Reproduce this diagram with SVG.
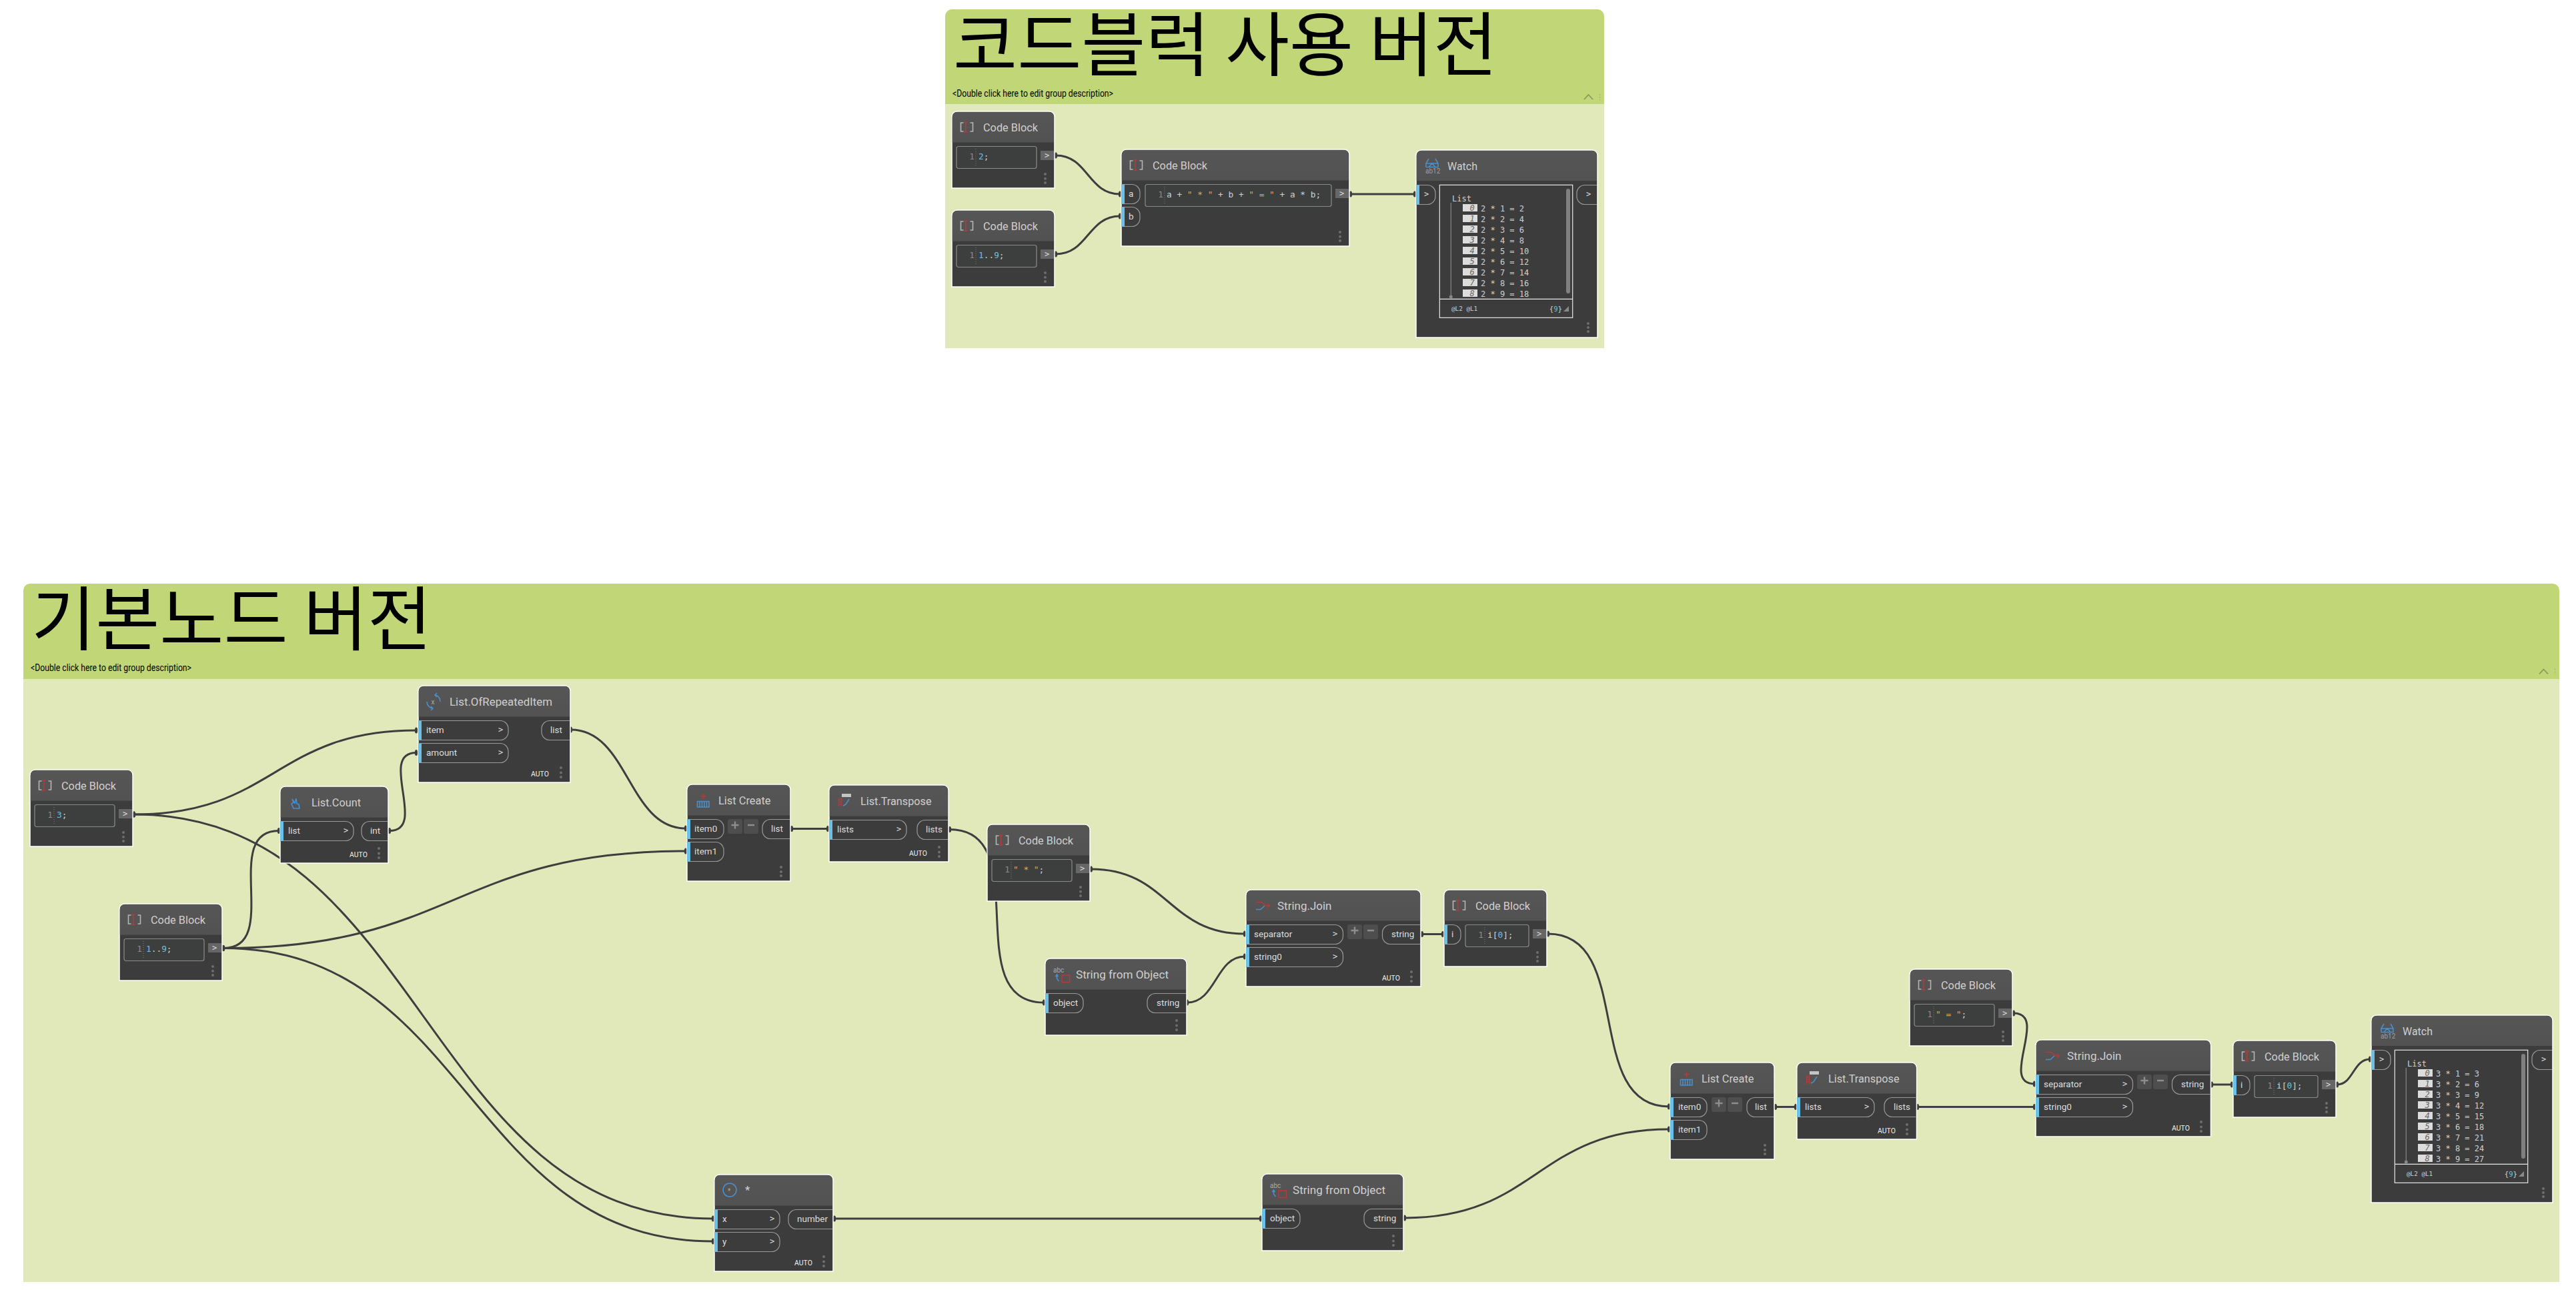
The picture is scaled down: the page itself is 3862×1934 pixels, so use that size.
<svg xmlns="http://www.w3.org/2000/svg" xmlns:xlink="http://www.w3.org/1999/xlink" width="3862" height="1934" viewBox="0 0 3862 1934">
<style>
.gh{fill:#c1d676}.gb{fill:#e1e9bb}
.gt{font:104.500px "Noto Sans CJK KR","Noto Sans",sans-serif;fill:#000}
.gd{font:14px Roboto,"Noto Sans",sans-serif;fill:#000}
.nb{fill:#3c3c3c;stroke:#fff;stroke-width:1.5}
.nh{fill:url(#hg)}
.t{font:17px Roboto,"Noto Sans",sans-serif;fill:#cfcfcf}
.l{font:13.5px Roboto,"Noto Sans",sans-serif;fill:#dcdcdc}
.p{fill:none;stroke:#9a9a9a;stroke-width:1.2}
.s{fill:#6ac0e7}
.ch{font:12px "DejaVu Sans Mono",monospace;fill:#d8d8d8}
.a{font:10.5px Roboto,"Noto Sans",sans-serif;fill:#f0f0f0}
.d{fill:#6e6e6e}
.box{fill:#3d3f3f;stroke:#8a8a8a;stroke-width:1.2}
.tab{fill:#666}
.c{font:12.8px "DejaVu Sans Mono",monospace;fill:#cfcfcf}
.ln{font:12.8px "DejaVu Sans Mono",monospace;fill:#8c8c8c;text-anchor:end}
.o{fill:#dca55c}.n{fill:#6ac0e7}
.dl{stroke:#777;stroke-width:1;stroke-dasharray:1 2;fill:none}
.pm{fill:#4e4e4e}
.pmt{stroke:#8d8d8d;stroke-width:2.4;fill:none}
.w{fill:none;stroke:#e8e8e8;stroke-width:1.2}
.wi{fill:#dcdcdc}
.wn{font:italic 12px "DejaVu Sans Mono",monospace;fill:#666;text-anchor:middle}
.wt{font:12px "DejaVu Sans Mono",monospace;fill:#cfcfcf}
.wf{font:9.3px "DejaVu Sans Mono",monospace;fill:#cfcfcf}
.wc{font:10.7px "DejaVu Sans Mono",monospace;fill:#cfcfcf}
.cn{fill:none;stroke:#3e3e3e;stroke-width:3;marker-start:url(#nub);marker-end:url(#nub)}
.ib{fill:none;stroke:#4a8fc9;stroke-width:1.6}
.ir{fill:none;stroke:#b53a3a;stroke-width:1.6}
.ig{fill:none;stroke:#b5b5b5;stroke-width:1.6}
.it{font:10px Roboto,sans-serif;fill:#aaa}
</style>
<defs>
<linearGradient id="hg" x1="0" y1="0" x2="0" y2="1"><stop offset="0" stop-color="#565656"/><stop offset="1" stop-color="#525252"/></linearGradient>
<marker id="nub" markerUnits="userSpaceOnUse" markerWidth="6" markerHeight="12" refX="3" refY="6" orient="0"><ellipse cx="3" cy="6" rx="2.2" ry="4.5" fill="#3e3e3e"/></marker>
<g id="i-code"><path class="ig" d="M18.5 17h-4v13h4M28.500 17h4v13h-4"/><path class="ir" stroke-width="2" d="M21.800 16v15M19 16h5.600M19 31h5.600"/></g>
<g id="i-watch"><path class="ib" d="M15 25v-5l4-7M33 25v-5l-4-7M14.500 20h19M14.500 25.500h19M19 25.500l5-5.500l5 5.500"/><text class="it" x="14" y="34.500" fill-opacity=".9">ab12</text></g>
<g id="i-join"><path class="ir" d="M15 18.500h8l7 5.500h5M32 21l3.500 3l-3.500 3"/><path class="ib" d="M15 29.500h7l6-5.500"/></g>
<g id="i-create"><path class="ir" stroke-width="2.400" d="M24.500 14v8M20.500 17.800h8"/><path class="ib" stroke-width="1.200" d="M15.500 25.500h17.500v8.500h-17.500zM19 25.500v8.500M22.500 25.500v8.500M26 25.500v8.500M29.500 25.500v8.500"/></g>
<g id="i-trans"><rect x="19" y="13" width="14" height="5" fill="#c4c4c4"/><path class="ir" stroke-width="1.300" d="M14.500 19v13M18.500 19v13M14.500 22h4M14.500 25.500h4M14.500 29h4"/><path class="ib" stroke-width="2.400" d="M21 31l4-2l5-8"/></g>
<g id="i-str"><text class="it" x="12" y="21" font-size="10">abc</text><path class="ib" d="M17.500 24v6l3 4M15.500 27l2-3l2 3"/><rect class="ir" x="25" y="25" width="11.500" height="10.500"/></g>
</defs>

<g id="group-1">
<path class="gh" d="M1417 156.500V24a10 10 0 0 1 10-10H2395a10 10 0 0 1 10 10V156.500z"/>
<rect class="gb" x="1417" y="156.500" width="988" height="365.500"/>
<text class="gt" x="1429" y="105">코드블럭 사용 버전</text>
<text class="gd" x="1428" y="145" textLength="241" lengthAdjust="spacingAndGlyphs">&lt;Double click here to edit group description&gt;</text>
<path d="M2375 149l6.500-7l6.500 7" fill="none" stroke="#8b9a5a" stroke-width="1.800"/>
<path d="M2398.500 141v9" stroke="#a7b86d" stroke-width="1.500" stroke-dasharray="2 2"/>
</g>
<g id="group-2">
<path class="gh" d="M35 1018V885a10 10 0 0 1 10-10H3827a10 10 0 0 1 10 10V1018z"/>
<rect class="gb" x="35" y="1018" width="3802" height="904"/>
<text class="gt" x="47" y="966">기본노드 버전</text>
<text class="gd" x="46" y="1006" textLength="241" lengthAdjust="spacingAndGlyphs">&lt;Double click here to edit group description&gt;</text>
<path d="M3807 1010.500l6.500-7l6.500 7" fill="none" stroke="#8b9a5a" stroke-width="1.800"/>
<path d="M3830.500 1002.500v9" stroke="#a7b86d" stroke-width="1.500" stroke-dasharray="2 2"/>
</g>

<g id="connectors">
<path class="cn" d="M1583 233C1631 233 1631 291 1679 291"/>
<path class="cn" d="M1583 381C1631 381 1631 324 1679 324"/>
<path class="cn" d="M2025 291H2121"/>
<path class="cn" d="M201 1221C412 1221 412 1095 624 1095"/>
<path class="cn" d="M201 1221C635 1221 635 1827 1069 1827"/>
<path class="cn" d="M335 1421.500C423 1421.500 330 1245.500 418 1245.500"/>
<path class="cn" d="M335 1421.500C681 1421.500 681 1276 1028 1276"/>
<path class="cn" d="M335 1421.500C702 1421.500 702 1861 1069 1861"/>
<path class="cn" d="M584 1245.500C642 1245.500 566 1128.500 624 1128.500"/>
<path class="cn" d="M856 1094C942 1094 942 1242 1028 1242"/>
<path class="cn" d="M1187 1242.500H1241"/>
<path class="cn" d="M1424 1243.500C1554 1243.500 1435 1503 1565 1503"/>
<path class="cn" d="M1636 1303C1751 1303 1751 1400 1866 1400"/>
<path class="cn" d="M1780 1503C1823 1503 1823 1434 1866 1434"/>
<path class="cn" d="M2132 1400.500H2163"/>
<path class="cn" d="M2321 1400C2451 1400 2372 1659 2502 1659"/>
<path class="cn" d="M1251 1827H1890"/>
<path class="cn" d="M2106 1826C2304 1826 2304 1693 2502 1693"/>
<path class="cn" d="M2662 1659.500H2692"/>
<path class="cn" d="M2875 1659.500H3050"/>
<path class="cn" d="M3019 1519C3072 1519 2997 1625 3050 1625"/>
<path class="cn" d="M3316 1626H3346"/>
<path class="cn" d="M3504 1626C3528 1626 3528 1588 3553 1588"/>
</g>

<g id="cb-top1" transform="translate(1427,167)">
<path class="nb" d="M0 115V8a8 8 0 0 1 8-8H146a8 8 0 0 1 8 8V115z"/><path class="nh" d="M.8 46.500V8a7 7 0 0 1 7-7H146a7 7 0 0 1 7 7V46.500z"/>
<use xlink:href="#i-code" href="#i-code" x="-1"/>
<text class="t" x="47" y="30" textLength="82" lengthAdjust="spacingAndGlyphs">Code Block</text>
<rect class="box" x="7" y="52.500" width="120" height="33" rx="3"/><path class="dl" d="M36 56V83"/>
<text class="ln" x="34" y="72">1</text><text class="c" x="40" y="72"><tspan class="n">2</tspan>;</text>
<rect class="tab" x="133" y="59" width="20" height="14"/><text class="ch" x="139" y="70">&gt;</text>
<circle class="d" cx="140" cy="94" r="2"/><circle class="d" cx="140" cy="100.700" r="2"/><circle class="d" cx="140" cy="107" r="2"/>
</g>
<g id="cb-top2" transform="translate(1427,315)">
<path class="nb" d="M0 115V8a8 8 0 0 1 8-8H146a8 8 0 0 1 8 8V115z"/><path class="nh" d="M.8 46.500V8a7 7 0 0 1 7-7H146a7 7 0 0 1 7 7V46.500z"/>
<use xlink:href="#i-code" href="#i-code" x="-1"/>
<text class="t" x="47" y="30" textLength="82" lengthAdjust="spacingAndGlyphs">Code Block</text>
<rect class="box" x="7" y="52.500" width="120" height="33" rx="3"/><path class="dl" d="M36 56V83"/>
<text class="ln" x="34" y="72">1</text><text class="c" x="40" y="72"><tspan class="n">1</tspan>..<tspan class="n">9</tspan>;</text>
<rect class="tab" x="133" y="59" width="20" height="14"/><text class="ch" x="139" y="70">&gt;</text>
<circle class="d" cx="140" cy="94" r="2"/><circle class="d" cx="140" cy="100.700" r="2"/><circle class="d" cx="140" cy="107" r="2"/>
</g>
<g id="cb-top3" transform="translate(1681,224)">
<path class="nb" d="M0 145V8a8 8 0 0 1 8-8H334a8 8 0 0 1 8 8V145z"/><path class="nh" d="M.8 46.500V8a7 7 0 0 1 7-7H334a7 7 0 0 1 7 7V46.500z"/>
<use xlink:href="#i-code" href="#i-code" x="-1"/>
<text class="t" x="47" y="30" textLength="82" lengthAdjust="spacingAndGlyphs">Code Block</text>
<path class="p" d="M0 52.500H16a12 12 0 0 1 12 12v5a12 12 0 0 1-12 12H0"/><rect class="s" y="52.500" width="5" height="29"/><text class="l" x="11" y="71">a</text>
<path class="p" d="M0 86.500H16a12 12 0 0 1 12 12v5a12 12 0 0 1-12 12H0"/><rect class="s" y="86.500" width="5" height="29"/><text class="l" x="11" y="105">b</text>
<rect class="box" x="36" y="52.500" width="279" height="33" rx="3"/><path class="dl" d="M65 56V83"/>
<text class="ln" x="63" y="72">1</text><text class="c" x="68" y="72">a + <tspan class="o">" * "</tspan> + b + <tspan class="o">" = "</tspan> + a * b;</text>
<rect class="tab" x="321" y="59" width="20" height="14"/><text class="ch" x="327" y="70">&gt;</text>
<circle class="d" cx="328" cy="124" r="2"/><circle class="d" cx="328" cy="130.700" r="2"/><circle class="d" cx="328" cy="137" r="2"/>
</g>
<g id="watch-top" transform="translate(2123,225)">
<path class="nb" d="M0 281V8a8 8 0 0 1 8-8H264a8 8 0 0 1 8 8V281z"/><path class="nh" d="M.8 46V8a7 7 0 0 1 7-7H264a7 7 0 0 1 7 7V46z"/>
<use xlink:href="#i-watch" href="#i-watch"/>
<text class="t" x="47" y="29.500" textLength="45" lengthAdjust="spacingAndGlyphs">Watch</text>
<path class="p" d="M0 52.500H17a12 12 0 0 1 12 12v5a12 12 0 0 1-12 12H0"/><rect class="s" y="52.500" width="5" height="29"/><text class="ch" x="12" y="70">&gt;</text>
<path class="p" d="M271 52.500H253a12 12 0 0 0-12 12v5a12 12 0 0 0 12 12H271"/><text class="ch" x="255" y="70">&gt;</text>
<rect class="w" x="35.300" y="52.300" width="199.400" height="199"/><path class="w" d="M35.300 223.300H234.700"/>
<rect x="225" y="58" width="6" height="157" rx="3" fill="#808080"/>
<path d="M52.300 79V220" stroke="#888" stroke-width="1.200"/><circle cx="52.300" cy="220" r="2.500" fill="#888"/>
<text class="wt" x="54" y="76.500">List</text>
<rect class="wi" x="70" y="81" width="22" height="11"/><text class="wn" x="84" y="90.500">0</text><text class="wt" x="97" y="91.500">2 * 1 = 2</text>
<rect class="wi" x="70" y="97" width="22" height="11"/><text class="wn" x="84" y="106.500">1</text><text class="wt" x="97" y="107.500">2 * 2 = 4</text>
<rect class="wi" x="70" y="113" width="22" height="11"/><text class="wn" x="84" y="122.500">2</text><text class="wt" x="97" y="123.500">2 * 3 = 6</text>
<rect class="wi" x="70" y="129" width="22" height="11"/><text class="wn" x="84" y="138.500">3</text><text class="wt" x="97" y="139.500">2 * 4 = 8</text>
<rect class="wi" x="70" y="145" width="22" height="11"/><text class="wn" x="84" y="154.500">4</text><text class="wt" x="97" y="155.500">2 * 5 = 10</text>
<rect class="wi" x="70" y="161" width="22" height="11"/><text class="wn" x="84" y="170.500">5</text><text class="wt" x="97" y="171.500">2 * 6 = 12</text>
<rect class="wi" x="70" y="177" width="22" height="11"/><text class="wn" x="84" y="186.500">6</text><text class="wt" x="97" y="187.500">2 * 7 = 14</text>
<rect class="wi" x="70" y="193" width="22" height="11"/><text class="wn" x="84" y="202.500">7</text><text class="wt" x="97" y="203.500">2 * 8 = 16</text>
<rect class="wi" x="70" y="209" width="22" height="11"/><text class="wn" x="84" y="218.500">8</text><text class="wt" x="97" y="219.500">2 * 9 = 18</text>
<text class="wf" x="53" y="241">@L2 @L1</text><text class="wc" x="199.700" y="241.500">{<tspan class="n">9</tspan>}</text>
<path d="M229 234l-8 8h8z" fill="#8a8a8a"/>
<circle class="d" cx="258" cy="260" r="2"/><circle class="d" cx="258" cy="266" r="2"/><circle class="d" cx="258" cy="272" r="2"/>
</g>

<g id="cb-3" transform="translate(45,1154)">
<path class="nb" d="M0 115V8a8 8 0 0 1 8-8H146a8 8 0 0 1 8 8V115z"/><path class="nh" d="M.8 46.500V8a7 7 0 0 1 7-7H146a7 7 0 0 1 7 7V46.500z"/>
<use xlink:href="#i-code" href="#i-code" x="-1"/>
<text class="t" x="47" y="30" textLength="82" lengthAdjust="spacingAndGlyphs">Code Block</text>
<rect class="box" x="7" y="52.500" width="120" height="33" rx="3"/><path class="dl" d="M36 56V83"/>
<text class="ln" x="34" y="72">1</text><text class="c" x="40" y="72"><tspan class="n">3</tspan>;</text>
<rect class="tab" x="133" y="59" width="20" height="14"/><text class="ch" x="139" y="70">&gt;</text>
<circle class="d" cx="140" cy="94" r="2"/><circle class="d" cx="140" cy="100.700" r="2"/><circle class="d" cx="140" cy="107" r="2"/>
</g>
<g id="cb-range" transform="translate(179,1355)">
<path class="nb" d="M0 115V8a8 8 0 0 1 8-8H146a8 8 0 0 1 8 8V115z"/><path class="nh" d="M.8 46.500V8a7 7 0 0 1 7-7H146a7 7 0 0 1 7 7V46.500z"/>
<use xlink:href="#i-code" href="#i-code" x="-1"/>
<text class="t" x="47" y="30" textLength="82" lengthAdjust="spacingAndGlyphs">Code Block</text>
<rect class="box" x="7" y="52.500" width="120" height="33" rx="3"/><path class="dl" d="M36 56V83"/>
<text class="ln" x="34" y="72">1</text><text class="c" x="40" y="72"><tspan class="n">1</tspan>..<tspan class="n">9</tspan>;</text>
<rect class="tab" x="133" y="59" width="20" height="14"/><text class="ch" x="139" y="70">&gt;</text>
<circle class="d" cx="140" cy="94" r="2"/><circle class="d" cx="140" cy="100.700" r="2"/><circle class="d" cx="140" cy="107" r="2"/>
</g>
<g id="list-repeated" transform="translate(627,1028)">
<path class="nb" d="M0 145V8a8 8 0 0 1 8-8H220a8 8 0 0 1 8 8V145z"/><path class="nh" d="M.8 46.500V8a7 7 0 0 1 7-7H220a7 7 0 0 1 7 7V46.500z"/>
<path class="ib" d="M26 14a10 10 0 0 1 7 10M22 34a10 10 0 0 1-9-10M28 11l-3 3l3 3M19 37l3-3l-3-3"/><text class="it" x="19.500" y="27.500">x</text>
<text class="t" x="47" y="30" textLength="154" lengthAdjust="spacingAndGlyphs">List.OfRepeatedItem</text>
<path class="p" d="M0 52.500H123a12 12 0 0 1 12 12v5a12 12 0 0 1-12 12H0"/><rect class="s" y="52.500" width="5" height="29"/><text class="l" x="12" y="71">item</text><text class="ch" x="120" y="70">&gt;</text>
<path class="p" d="M0 86.500H123a12 12 0 0 1 12 12v5a12 12 0 0 1-12 12H0"/><rect class="s" y="86.500" width="5" height="29"/><text class="l" x="12" y="105">amount</text><text class="ch" x="120" y="104">&gt;</text>
<path class="p" d="M227 52.500H197a12 12 0 0 0-12 12v5a12 12 0 0 0 12 12H227"/><text class="l" x="198" y="71">list</text>
<text class="a" x="169" y="136">AUTO</text>
<circle class="d" cx="214" cy="123" r="2"/><circle class="d" cx="214" cy="130.500" r="2"/><circle class="d" cx="214" cy="137" r="2"/>
</g>
<g id="list-count" transform="translate(420,1179)">
<path class="nb" d="M0 115V8a8 8 0 0 1 8-8H154a8 8 0 0 1 8 8V115z"/><path class="nh" d="M.8 46.500V8a7 7 0 0 1 7-7H154a7 7 0 0 1 7 7V46.500z"/>
<path class="ib" stroke-width="2" d="M18 19l4 6l2-7l1 8l3 1l1 6h-9l-3-7l3-2z"/>
<text class="t" x="47" y="30" textLength="74" lengthAdjust="spacingAndGlyphs">List.Count</text>
<path class="p" d="M0 52.500H98a12 12 0 0 1 12 12v5a12 12 0 0 1-12 12H0"/><rect class="s" y="52.500" width="5" height="29"/><text class="l" x="12" y="71">list</text><text class="ch" x="95" y="70">&gt;</text>
<path class="p" d="M161 52.500H134a12 12 0 0 0-12 12v5a12 12 0 0 0 12 12H161"/><text class="l" x="135" y="71">int</text>
<text class="a" x="104" y="106">AUTO</text>
<circle class="d" cx="148" cy="93" r="2"/><circle class="d" cx="148" cy="100.500" r="2"/><circle class="d" cx="148" cy="107" r="2"/>
</g>
<g id="list-create-1" transform="translate(1030,1176)">
<path class="nb" d="M0 145V8a8 8 0 0 1 8-8H147a8 8 0 0 1 8 8V145z"/><path class="nh" d="M.8 46.500V8a7 7 0 0 1 7-7H147a7 7 0 0 1 7 7V46.500z"/>
<use xlink:href="#i-create" href="#i-create"/>
<text class="t" x="47" y="30" textLength="78.500" lengthAdjust="spacingAndGlyphs">List Create</text>
<path class="p" d="M0 52.500H43a12 12 0 0 1 12 12v5a12 12 0 0 1-12 12H0"/><rect class="s" y="52.500" width="5" height="29"/><text class="l" x="11" y="71">item0</text>
<path class="p" d="M0 86.500H43a12 12 0 0 1 12 12v5a12 12 0 0 1-12 12H0"/><rect class="s" y="86.500" width="5" height="29"/><text class="l" x="11" y="105">item1</text>
<rect class="pm" x="61" y="52" width="22" height="22" rx="3"/><rect class="pm" x="85" y="52" width="22" height="22" rx="3"/>
<path class="pmt" d="M66.500 61h11M72 55.500v11M91 61h10"/>
<path class="p" d="M154 52.500H125a12 12 0 0 0-12 12v5a12 12 0 0 0 12 12H154"/><text class="l" x="126" y="71">list</text>
<circle class="d" cx="141" cy="124" r="2"/><circle class="d" cx="141" cy="131" r="2"/><circle class="d" cx="141" cy="137" r="2"/>
</g>
<g id="list-transpose-1" transform="translate(1243,1177)">
<path class="nb" d="M0 115V8a8 8 0 0 1 8-8H171a8 8 0 0 1 8 8V115z"/><path class="nh" d="M.8 46.500V8a7 7 0 0 1 7-7H171a7 7 0 0 1 7 7V46.500z"/>
<use xlink:href="#i-trans" href="#i-trans"/>
<text class="t" x="47" y="30" textLength="106.500" lengthAdjust="spacingAndGlyphs">List.Transpose</text>
<path class="p" d="M0 52.500H104a12 12 0 0 1 12 12v5a12 12 0 0 1-12 12H0"/><rect class="s" y="52.500" width="5" height="29"/><text class="l" x="12" y="71">lists</text><text class="ch" x="101" y="70">&gt;</text>
<path class="p" d="M178 52.500H144a12 12 0 0 0-12 12v5a12 12 0 0 0 12 12H178"/><text class="l" x="145" y="71">lists</text>
<text class="a" x="120" y="106">AUTO</text>
<circle class="d" cx="165" cy="93" r="2"/><circle class="d" cx="165" cy="100.500" r="2"/><circle class="d" cx="165" cy="107" r="2"/>
</g>
<g id="cb-times" transform="translate(1480,1236)">
<path class="nb" d="M0 115V8a8 8 0 0 1 8-8H146a8 8 0 0 1 8 8V115z"/><path class="nh" d="M.8 46.500V8a7 7 0 0 1 7-7H146a7 7 0 0 1 7 7V46.500z"/>
<use xlink:href="#i-code" href="#i-code" x="-1"/>
<text class="t" x="47" y="30" textLength="82" lengthAdjust="spacingAndGlyphs">Code Block</text>
<rect class="box" x="7" y="52.500" width="120" height="33" rx="3"/><path class="dl" d="M36 56V83"/>
<text class="ln" x="34" y="72">1</text><text class="c" x="39" y="72"><tspan class="o">" * "</tspan>;</text>
<rect class="tab" x="133" y="59" width="20" height="14"/><text class="ch" x="139" y="70">&gt;</text>
<circle class="d" cx="140" cy="94" r="2"/><circle class="d" cx="140" cy="100.700" r="2"/><circle class="d" cx="140" cy="107" r="2"/>
</g>
<g id="str-object-1" transform="translate(1567,1437)">
<path class="nb" d="M0 115V8a8 8 0 0 1 8-8H204a8 8 0 0 1 8 8V115z"/><path class="nh" d="M.8 46.500V8a7 7 0 0 1 7-7H204a7 7 0 0 1 7 7V46.500z"/>
<use xlink:href="#i-str" href="#i-str"/>
<text class="t" x="46" y="30" textLength="139" lengthAdjust="spacingAndGlyphs">String from Object</text>
<path class="p" d="M0 52.500H45a12 12 0 0 1 12 12v5a12 12 0 0 1-12 12H0"/><rect class="s" y="52.500" width="5" height="29"/><text class="l" x="12" y="71">object</text>
<path class="p" d="M211 52.500H165a12 12 0 0 0-12 12v5a12 12 0 0 0 12 12H211"/><text class="l" x="167" y="71">string</text>
<circle class="d" cx="197" cy="93" r="2"/><circle class="d" cx="197" cy="100.500" r="2"/><circle class="d" cx="197" cy="107" r="2"/>
</g>
<g id="str-join-1" transform="translate(1868,1334)">
<path class="nb" d="M0 145V8a8 8 0 0 1 8-8H254a8 8 0 0 1 8 8V145z"/><path class="nh" d="M.8 46.500V8a7 7 0 0 1 7-7H254a7 7 0 0 1 7 7V46.500z"/>
<use xlink:href="#i-join" href="#i-join"/>
<text class="t" x="47" y="30" textLength="81.500" lengthAdjust="spacingAndGlyphs">String.Join</text>
<path class="p" d="M0 52.500H133.500a12 12 0 0 1 12 12v5a12 12 0 0 1-12 12H0"/><rect class="s" y="52.500" width="5" height="29"/><text class="l" x="12" y="71">separator</text><text class="ch" x="130" y="70">&gt;</text>
<path class="p" d="M0 86.500H133.500a12 12 0 0 1 12 12v5a12 12 0 0 1-12 12H0"/><rect class="s" y="86.500" width="5" height="29"/><text class="l" x="12" y="105">string0</text><text class="ch" x="130" y="104">&gt;</text>
<rect class="pm" x="152" y="52" width="22" height="22" rx="3"/><rect class="pm" x="176" y="52" width="22" height="22" rx="3"/>
<path class="pmt" d="M157.500 61h11M163 55.500v11M182 61h10"/>
<path class="p" d="M261 52.500H216.500a12 12 0 0 0-12 12v5a12 12 0 0 0 12 12H261"/><text class="l" x="218" y="71">string</text>
<text class="a" x="204" y="136">AUTO</text>
<circle class="d" cx="248" cy="123" r="2"/><circle class="d" cx="248" cy="130.500" r="2"/><circle class="d" cx="248" cy="137" r="2"/>
</g>
<g id="cb-index-1" transform="translate(2165,1334)">
<path class="nb" d="M0 115V8a8 8 0 0 1 8-8H146a8 8 0 0 1 8 8V115z"/><path class="nh" d="M.8 46.500V8a7 7 0 0 1 7-7H146a7 7 0 0 1 7 7V46.500z"/>
<use xlink:href="#i-code" href="#i-code" x="-1"/>
<text class="t" x="47" y="30" textLength="82" lengthAdjust="spacingAndGlyphs">Code Block</text>
<path class="p" d="M0 52.500H13a12 12 0 0 1 12 12v5a12 12 0 0 1-12 12H0"/><rect class="s" y="52.500" width="5" height="29"/><text class="l" x="11" y="71">i</text>
<rect class="box" x="32" y="52.500" width="95" height="33" rx="3"/><path class="dl" d="M61 56V83"/>
<text class="ln" x="59" y="72">1</text><text class="c" x="65" y="72">i[<tspan class="n">0</tspan>];</text>
<rect class="tab" x="133" y="59" width="20" height="14"/><text class="ch" x="139" y="70">&gt;</text>
<circle class="d" cx="140" cy="94" r="2"/><circle class="d" cx="140" cy="100.700" r="2"/><circle class="d" cx="140" cy="107" r="2"/>
</g>
<g id="multiply" transform="translate(1071,1761)">
<path class="nb" d="M0 145V8a8 8 0 0 1 8-8H170a8 8 0 0 1 8 8V145z"/><path class="nh" d="M.8 46.500V8a7 7 0 0 1 7-7H170a7 7 0 0 1 7 7V46.500z"/>
<circle class="ib" cx="23" cy="23" r="10"/><text class="it" x="20" y="28" fill="#ddd" font-size="13">*</text>
<text class="t" x="46" y="29">*</text>
<path class="p" d="M0 52.500H86a12 12 0 0 1 12 12v5a12 12 0 0 1-12 12H0"/><rect class="s" y="52.500" width="5" height="29"/><text class="l" x="12" y="71">x</text><text class="ch" x="83" y="70">&gt;</text>
<path class="p" d="M0 86.500H86a12 12 0 0 1 12 12v5a12 12 0 0 1-12 12H0"/><rect class="s" y="86.500" width="5" height="29"/><text class="l" x="12" y="105">y</text><text class="ch" x="83" y="104">&gt;</text>
<path class="p" d="M177 52.500H123a12 12 0 0 0-12 12v5a12 12 0 0 0 12 12H177"/><text class="l" x="124" y="71">number</text>
<text class="a" x="120" y="136">AUTO</text>
<circle class="d" cx="164" cy="123" r="2"/><circle class="d" cx="164" cy="130.500" r="2"/><circle class="d" cx="164" cy="137" r="2"/>
</g>
<g id="str-object-2" transform="translate(1892,1760)">
<path class="nb" d="M0 115V8a8 8 0 0 1 8-8H204a8 8 0 0 1 8 8V115z"/><path class="nh" d="M.8 46.500V8a7 7 0 0 1 7-7H204a7 7 0 0 1 7 7V46.500z"/>
<use xlink:href="#i-str" href="#i-str"/>
<text class="t" x="46" y="30" textLength="139" lengthAdjust="spacingAndGlyphs">String from Object</text>
<path class="p" d="M0 52.500H45a12 12 0 0 1 12 12v5a12 12 0 0 1-12 12H0"/><rect class="s" y="52.500" width="5" height="29"/><text class="l" x="12" y="71">object</text>
<path class="p" d="M211 52.500H165a12 12 0 0 0-12 12v5a12 12 0 0 0 12 12H211"/><text class="l" x="167" y="71">string</text>
<circle class="d" cx="197" cy="93" r="2"/><circle class="d" cx="197" cy="100.500" r="2"/><circle class="d" cx="197" cy="107" r="2"/>
</g>
<g id="list-create-2" transform="translate(2504,1593)">
<path class="nb" d="M0 145V8a8 8 0 0 1 8-8H148a8 8 0 0 1 8 8V145z"/><path class="nh" d="M.8 46.500V8a7 7 0 0 1 7-7H148a7 7 0 0 1 7 7V46.500z"/>
<use xlink:href="#i-create" href="#i-create"/>
<text class="t" x="47" y="30" textLength="78.500" lengthAdjust="spacingAndGlyphs">List Create</text>
<path class="p" d="M0 52.500H43a12 12 0 0 1 12 12v5a12 12 0 0 1-12 12H0"/><rect class="s" y="52.500" width="5" height="29"/><text class="l" x="12" y="71">item0</text>
<path class="p" d="M0 86.500H43a12 12 0 0 1 12 12v5a12 12 0 0 1-12 12H0"/><rect class="s" y="86.500" width="5" height="29"/><text class="l" x="12" y="105">item1</text>
<rect class="pm" x="62" y="52" width="22" height="22" rx="3"/><rect class="pm" x="86" y="52" width="22" height="22" rx="3"/>
<path class="pmt" d="M67.500 61h11M73 55.500v11M92 61h10"/>
<path class="p" d="M155 52.500H127a12 12 0 0 0-12 12v5a12 12 0 0 0 12 12H155"/><text class="l" x="127" y="71">list</text>
<circle class="d" cx="142" cy="124" r="2"/><circle class="d" cx="142" cy="131" r="2"/><circle class="d" cx="142" cy="137" r="2"/>
</g>
<g id="list-transpose-2" transform="translate(2694,1593)">
<path class="nb" d="M0 115V8a8 8 0 0 1 8-8H171.500a8 8 0 0 1 8 8V115z"/><path class="nh" d="M.8 46.500V8a7 7 0 0 1 7-7H171.500a7 7 0 0 1 7 7V46.500z"/>
<use xlink:href="#i-trans" href="#i-trans"/>
<text class="t" x="47" y="30" textLength="106.500" lengthAdjust="spacingAndGlyphs">List.Transpose</text>
<path class="p" d="M0 52.500H104a12 12 0 0 1 12 12v5a12 12 0 0 1-12 12H0"/><rect class="s" y="52.500" width="5" height="29"/><text class="l" x="12" y="71">lists</text><text class="ch" x="101" y="70">&gt;</text>
<path class="p" d="M178.500 52.500H143a12 12 0 0 0-12 12v5a12 12 0 0 0 12 12H178.500"/><text class="l" x="145" y="71">lists</text>
<text class="a" x="121" y="106">AUTO</text>
<circle class="d" cx="165" cy="93" r="2"/><circle class="d" cx="165" cy="100.500" r="2"/><circle class="d" cx="165" cy="107" r="2"/>
</g>
<g id="cb-equals" transform="translate(2863,1453)">
<path class="nb" d="M0 115V8a8 8 0 0 1 8-8H146a8 8 0 0 1 8 8V115z"/><path class="nh" d="M.8 46.500V8a7 7 0 0 1 7-7H146a7 7 0 0 1 7 7V46.500z"/>
<use xlink:href="#i-code" href="#i-code" x="-1"/>
<text class="t" x="47" y="30" textLength="82" lengthAdjust="spacingAndGlyphs">Code Block</text>
<rect class="box" x="7" y="52.500" width="120" height="33" rx="3"/><path class="dl" d="M36 56V83"/>
<text class="ln" x="34" y="72">1</text><text class="c" x="39" y="72"><tspan class="o">" = "</tspan>;</text>
<rect class="tab" x="133" y="59" width="20" height="14"/><text class="ch" x="139" y="70">&gt;</text>
<circle class="d" cx="140" cy="94" r="2"/><circle class="d" cx="140" cy="100.700" r="2"/><circle class="d" cx="140" cy="107" r="2"/>
</g>
<g id="str-join-2" transform="translate(3052,1559)">
<path class="nb" d="M0 145V8a8 8 0 0 1 8-8H254.500a8 8 0 0 1 8 8V145z"/><path class="nh" d="M.8 46.500V8a7 7 0 0 1 7-7H254.500a7 7 0 0 1 7 7V46.500z"/>
<use xlink:href="#i-join" href="#i-join"/>
<text class="t" x="47" y="30" textLength="81.500" lengthAdjust="spacingAndGlyphs">String.Join</text>
<path class="p" d="M0 52.500H133.500a12 12 0 0 1 12 12v5a12 12 0 0 1-12 12H0"/><rect class="s" y="52.500" width="5" height="29"/><text class="l" x="12" y="71">separator</text><text class="ch" x="130" y="70">&gt;</text>
<path class="p" d="M0 86.500H133.500a12 12 0 0 1 12 12v5a12 12 0 0 1-12 12H0"/><rect class="s" y="86.500" width="5" height="29"/><text class="l" x="12" y="105">string0</text><text class="ch" x="130" y="104">&gt;</text>
<rect class="pm" x="152" y="52" width="22" height="22" rx="3"/><rect class="pm" x="176" y="52" width="22" height="22" rx="3"/>
<path class="pmt" d="M157.500 61h11M163 55.500v11M182 61h10"/>
<path class="p" d="M261.500 52.500H216.500a12 12 0 0 0-12 12v5a12 12 0 0 0 12 12H261.500"/><text class="l" x="218" y="71">string</text>
<text class="a" x="204" y="136">AUTO</text>
<circle class="d" cx="248" cy="123" r="2"/><circle class="d" cx="248" cy="130.500" r="2"/><circle class="d" cx="248" cy="137" r="2"/>
</g>
<g id="cb-index-2" transform="translate(3348,1560)">
<path class="nb" d="M0 115V8a8 8 0 0 1 8-8H146a8 8 0 0 1 8 8V115z"/><path class="nh" d="M.8 46.500V8a7 7 0 0 1 7-7H146a7 7 0 0 1 7 7V46.500z"/>
<use xlink:href="#i-code" href="#i-code" x="-1"/>
<text class="t" x="47" y="30" textLength="82" lengthAdjust="spacingAndGlyphs">Code Block</text>
<path class="p" d="M0 52.500H13a12 12 0 0 1 12 12v5a12 12 0 0 1-12 12H0"/><rect class="s" y="52.500" width="5" height="29"/><text class="l" x="11" y="71">i</text>
<rect class="box" x="32" y="52.500" width="95" height="33" rx="3"/><path class="dl" d="M61 56V83"/>
<text class="ln" x="59" y="72">1</text><text class="c" x="65" y="72">i[<tspan class="n">0</tspan>];</text>
<rect class="tab" x="133" y="59" width="20" height="14"/><text class="ch" x="139" y="70">&gt;</text>
<circle class="d" cx="140" cy="94" r="2"/><circle class="d" cx="140" cy="100.700" r="2"/><circle class="d" cx="140" cy="107" r="2"/>
</g>
<g id="watch-bottom" transform="translate(3555,1522)">
<path class="nb" d="M0 281V8a8 8 0 0 1 8-8H264a8 8 0 0 1 8 8V281z"/><path class="nh" d="M.8 46V8a7 7 0 0 1 7-7H264a7 7 0 0 1 7 7V46z"/>
<use xlink:href="#i-watch" href="#i-watch"/>
<text class="t" x="47" y="29.500" textLength="45" lengthAdjust="spacingAndGlyphs">Watch</text>
<path class="p" d="M0 52.500H17a12 12 0 0 1 12 12v5a12 12 0 0 1-12 12H0"/><rect class="s" y="52.500" width="5" height="29"/><text class="ch" x="12" y="70">&gt;</text>
<path class="p" d="M271 52.500H253a12 12 0 0 0-12 12v5a12 12 0 0 0 12 12H271"/><text class="ch" x="255" y="70">&gt;</text>
<rect class="w" x="35.300" y="52.300" width="199.400" height="199"/><path class="w" d="M35.300 223.300H234.700"/>
<rect x="225" y="58" width="6" height="157" rx="3" fill="#808080"/>
<path d="M52.300 79V220" stroke="#888" stroke-width="1.200"/><circle cx="52.300" cy="220" r="2.500" fill="#888"/>
<text class="wt" x="54" y="76.500">List</text>
<rect class="wi" x="70" y="81" width="22" height="11"/><text class="wn" x="84" y="90.500">0</text><text class="wt" x="97" y="91.500">3 * 1 = 3</text>
<rect class="wi" x="70" y="97" width="22" height="11"/><text class="wn" x="84" y="106.500">1</text><text class="wt" x="97" y="107.500">3 * 2 = 6</text>
<rect class="wi" x="70" y="113" width="22" height="11"/><text class="wn" x="84" y="122.500">2</text><text class="wt" x="97" y="123.500">3 * 3 = 9</text>
<rect class="wi" x="70" y="129" width="22" height="11"/><text class="wn" x="84" y="138.500">3</text><text class="wt" x="97" y="139.500">3 * 4 = 12</text>
<rect class="wi" x="70" y="145" width="22" height="11"/><text class="wn" x="84" y="154.500">4</text><text class="wt" x="97" y="155.500">3 * 5 = 15</text>
<rect class="wi" x="70" y="161" width="22" height="11"/><text class="wn" x="84" y="170.500">5</text><text class="wt" x="97" y="171.500">3 * 6 = 18</text>
<rect class="wi" x="70" y="177" width="22" height="11"/><text class="wn" x="84" y="186.500">6</text><text class="wt" x="97" y="187.500">3 * 7 = 21</text>
<rect class="wi" x="70" y="193" width="22" height="11"/><text class="wn" x="84" y="202.500">7</text><text class="wt" x="97" y="203.500">3 * 8 = 24</text>
<rect class="wi" x="70" y="209" width="22" height="11"/><text class="wn" x="84" y="218.500">8</text><text class="wt" x="97" y="219.500">3 * 9 = 27</text>
<text class="wf" x="53" y="241">@L2 @L1</text><text class="wc" x="199.700" y="241.500">{<tspan class="n">9</tspan>}</text>
<path d="M229 234l-8 8h8z" fill="#8a8a8a"/>
<circle class="d" cx="258" cy="260" r="2"/><circle class="d" cx="258" cy="266" r="2"/><circle class="d" cx="258" cy="272" r="2"/>
</g>
</svg>
